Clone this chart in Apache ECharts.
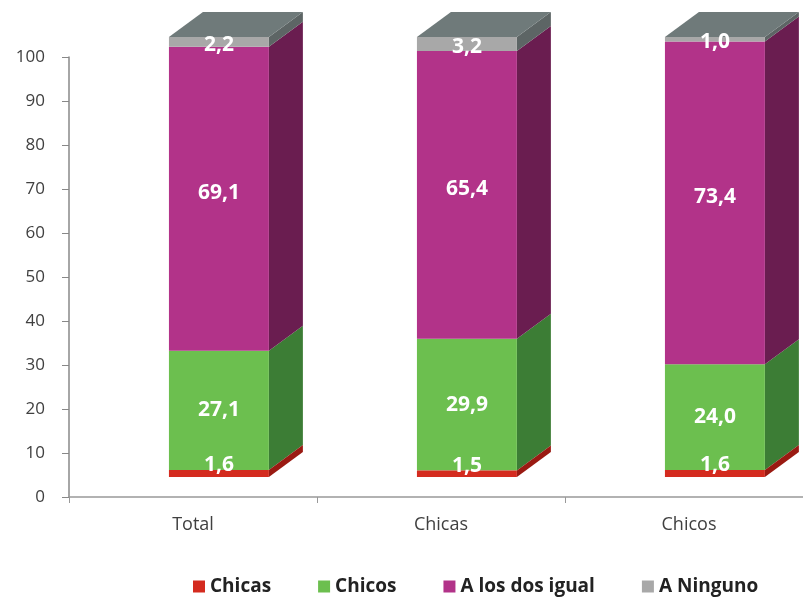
<!DOCTYPE html>
<html><head><meta charset="utf-8">
<script src="https://cdn.jsdelivr.net/npm/echarts@6/dist/echarts.min.js"></script>
<style>html,body{margin:0;padding:0;background:#fff}#c{width:803px;height:597px}</style>
</head><body><div id="c"></div>
<script>
const categories = ['Total', 'Chicas', 'Chicos'];
const seriesNames = ['Chicas', 'Chicos', 'A los dos igual', 'A Ninguno'];
const chicas = [1.6, 1.5, 1.6];
const chicos = [27.1, 29.9, 24.0];
const ambos = [69.1, 65.4, 73.4];
const ninguno = [2.2, 3.2, 1.0];
const yTicks = [0, 100, 10];

const values = [chicas, chicos, ambos, ninguno];
const frontColors = ['#d42b1f', '#6cbf4f', '#b23389', '#a8a8a8'];
const sideColors = ['#9a1a12', '#3c7d35', '#6a1d50', '#5d6565'];
const topColors = ['#b02015', '#4e9a42', '#8a2768', '#6f7a7a'];
const labelShift = [-8, 0, -6, 3];
const seriesZ = [5, 2, 2, 2];

const DX = 34, DY = -25, LIFT = 20;
const FONT = '"Open Sans", Lato, sans-serif';

function fmt(v){ return v.toFixed(1).replace('.', ','); }

const series = values.map((arr, si) => {
  const data = arr.map((v, ci) => {
    let s = 0;
    for (let k = 0; k < si; k++) s += values[k][ci];
    const isTop = si === values.length - 1 ? 1 : 0;
    return [ci, s, s + v, isTop, v];
  });
  return {
    type: 'custom',
    name: seriesNames[si],
    clip: false,
    z: seriesZ[si],
    itemStyle: { color: frontColors[si] },
    encode: { x: 0, y: [1, 2] },
    data: data,
    renderItem: function (params, api) {
      const idx = api.value(0), s = api.value(1), e = api.value(2), top = api.value(3), v = api.value(4);
      const p0 = api.coord([idx, s]);
      const p1 = api.coord([idx, e]);
      const band = api.size([1, 0])[0];
      const cx = p0[0];
      const yb = p0[1] - LIFT, yt = p1[1] - LIFT;
      const x0 = cx - band * 0.097, x1 = x0 + band * 0.403;
      const children = [
        { type: 'polygon', shape: { points: [[x1, yb], [x1 + DX, yb + DY], [x1 + DX, yt + DY], [x1, yt]] }, style: { fill: sideColors[si] } },
        { type: 'rect', shape: { x: x0, y: yt, width: x1 - x0, height: yb - yt }, style: { fill: frontColors[si] } }
      ];
      if (top) {
        children.push({ type: 'polygon', shape: { points: [[x0, yt], [x0 + DX, yt + DY], [x1 + DX, yt + DY], [x1, yt]] }, style: { fill: topColors[si] } });
      }
      const ly = (yb + yt) / 2 + labelShift[si];
      children.push({ type: 'text', x: (x0 + x1) / 2, y: ly, style: { text: fmt(v), fill: '#fff', font: 'bold 21px ' + FONT, align: 'center', verticalAlign: 'middle' } });
      return { type: 'group', children: children };
    }
  };
});

const chart = echarts.init(document.getElementById('c'), null, { renderer: 'canvas' });
chart.setOption({
  animation: false,
  backgroundColor: '#fff',
  grid: { left: 69, width: 744, top: 57, bottom: 100, containLabel: false, outerBoundsMode: 'none' },
  legend: {
    left: 188, top: 572,
    icon: 'rect', itemWidth: 12, itemHeight: 12, itemGap: 47, itemTextGap: 2,
    textStyle: { fontFamily: FONT, fontWeight: 'bold', fontSize: 19, color: '#222' },
    data: seriesNames
  },
  xAxis: {
    type: 'category', data: categories,
    axisLine: { lineStyle: { color: '#999', width: 1.5 } },
    axisTick: { show: true, length: 6, lineStyle: { color: '#999' } },
    axisLabel: { margin: 19, fontSize: 18, color: '#404040', fontFamily: FONT }
  },
  yAxis: {
    type: 'value', min: yTicks[0], max: yTicks[1], interval: yTicks[2],
    splitLine: { show: false },
    axisLine: { show: true, lineStyle: { color: '#888', width: 1.5 } },
    axisTick: { show: true, length: 7, lineStyle: { color: '#888' } },
    axisLabel: { margin: 24, fontSize: 17, color: '#404040', fontFamily: FONT }
  },
  series: series
});
</script></body></html>
